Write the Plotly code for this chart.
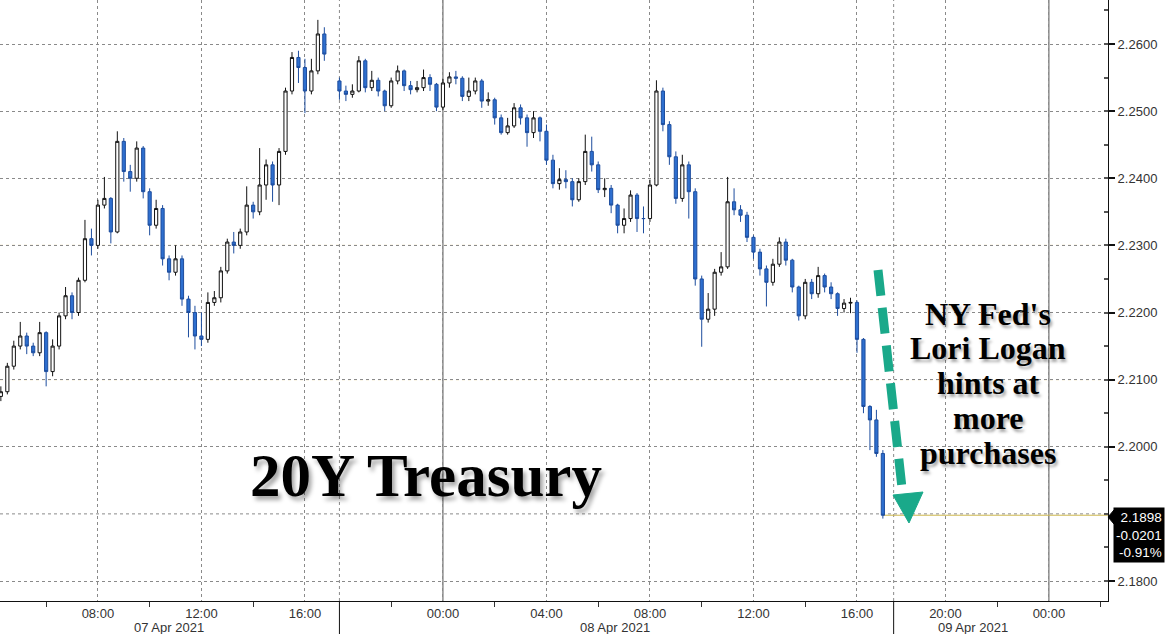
import pandas as pd
import plotly.graph_objects as go

# ---------------- data (15-minute bars) ----------------
session1_start, session1_end = "2021-04-07 04:15", "2021-04-07 16:45"
session2_start, session2_end = "2021-04-07 20:00", "2021-04-08 17:00"

session1_first_open = 2.2075
session1_close = [2.2082, 2.2120, 2.2150, 2.2165, 2.2150, 2.2140, 2.2170, 2.2112, 2.2150, 2.2195,
                  2.2225, 2.2200, 2.2248, 2.2310, 2.2300, 2.2360, 2.2370, 2.2320, 2.2455, 2.2410,
                  2.2400, 2.2445, 2.2380, 2.2330, 2.2355, 2.2280, 2.2260, 2.2280, 2.2220, 2.2200,
                  2.2165, 2.2160, 2.2215, 2.2222, 2.2262, 2.2305, 2.2300, 2.2320, 2.2360, 2.2350,
                  2.2390, 2.2420, 2.2390, 2.2440, 2.2530, 2.2580, 2.2565, 2.2530, 2.2560, 2.2615, 2.2585]
session1_high = [2.2090, 2.2125, 2.2158, 2.2186, 2.2170, 2.2155, 2.2186, 2.2172, 2.2160, 2.2200,
                 2.2238, 2.2230, 2.2252, 2.2338, 2.2325, 2.2368, 2.2402, 2.2372, 2.2470, 2.2460,
                 2.2420, 2.2455, 2.2448, 2.2385, 2.2368, 2.2360, 2.2285, 2.2300, 2.2285, 2.2225,
                 2.2210, 2.2200, 2.2230, 2.2232, 2.2268, 2.2310, 2.2320, 2.2325, 2.2388, 2.2365,
                 2.2445, 2.2428, 2.2425, 2.2445, 2.2535, 2.2588, 2.2590, 2.2578, 2.2578, 2.2636, 2.2625]
session1_low = [2.2068, 2.2078, 2.2115, 2.2145, 2.2138, 2.2135, 2.2135, 2.2090, 2.2105, 2.2145,
                2.2190, 2.2190, 2.2195, 2.2245, 2.2285, 2.2295, 2.2355, 2.2303, 2.2318, 2.2395,
                2.2380, 2.2395, 2.2370, 2.2315, 2.2325, 2.2270, 2.2248, 2.2255, 2.2210, 2.2163,
                2.2145, 2.2150, 2.2155, 2.2210, 2.2215, 2.2258, 2.2288, 2.2295, 2.2315, 2.2340,
                2.2345, 2.2368, 2.2365, 2.2360, 2.2435, 2.2525, 2.2542, 2.2497, 2.2525, 2.2555, 2.2575]

session2_first_open = 2.2545
session2_close = [2.2530, 2.2525, 2.2530, 2.2575, 2.2535, 2.2546, 2.2530, 2.2508, 2.2545, 2.2560,
                  2.2538, 2.2532, 2.2535, 2.2550, 2.2540, 2.2506, 2.2542, 2.2551, 2.2549, 2.2522,
                  2.2530, 2.2545, 2.2515, 2.2517, 2.2490, 2.2468, 2.2478, 2.2505, 2.2490, 2.2468,
                  2.2490, 2.2470, 2.2427, 2.2392, 2.2398, 2.2395, 2.2368, 2.2395, 2.2440, 2.2420,
                  2.2383, 2.2385, 2.2360, 2.2330, 2.2340, 2.2375, 2.2340, 2.2340, 2.2390, 2.2530,
                  2.2480, 2.2432, 2.2370, 2.2420, 2.2380, 2.2250, 2.2190, 2.2205, 2.2260, 2.2268,
                  2.2365, 2.2353, 2.2345, 2.2312, 2.2290, 2.2265, 2.2245, 2.2272, 2.2305, 2.2278,
                  2.2238, 2.2195, 2.2245, 2.2228, 2.2255, 2.2238, 2.2228, 2.2206, 2.2214, 2.2215,
                  2.2160, 2.2060, 2.2040, 2.1990, 2.1898]
session2_high = [2.2550, 2.2538, 2.2540, 2.2582, 2.2578, 2.2560, 2.2550, 2.2532, 2.2550, 2.2568,
                 2.2562, 2.2545, 2.2545, 2.2562, 2.2555, 2.2542, 2.2548, 2.2558, 2.2560, 2.2552,
                 2.2550, 2.2550, 2.2548, 2.2528, 2.2520, 2.2495, 2.2490, 2.2512, 2.2510, 2.2495,
                 2.2500, 2.2492, 2.2480, 2.2435, 2.2415, 2.2412, 2.2400, 2.2400, 2.2465, 2.2462,
                 2.2425, 2.2400, 2.2390, 2.2362, 2.2355, 2.2382, 2.2378, 2.2358, 2.2398, 2.2546,
                 2.2535, 2.2485, 2.2440, 2.2435, 2.2425, 2.2385, 2.2255, 2.2229, 2.2265, 2.2290,
                 2.2402, 2.2385, 2.2360, 2.2350, 2.2315, 2.2295, 2.2270, 2.2280, 2.2312, 2.2310,
                 2.2280, 2.2240, 2.2250, 2.2250, 2.2268, 2.2258, 2.2245, 2.2230, 2.2220, 2.2222,
                 2.2218, 2.2162, 2.2062, 2.2055, 2.1995]
session2_low = [2.2517, 2.2515, 2.2520, 2.2528, 2.2528, 2.2530, 2.2522, 2.2500, 2.2505, 2.2540,
                2.2530, 2.2525, 2.2528, 2.2530, 2.2530, 2.2500, 2.2502, 2.2535, 2.2540, 2.2515,
                2.2515, 2.2525, 2.2505, 2.2508, 2.2480, 2.2465, 2.2465, 2.2475, 2.2480, 2.2447,
                2.2460, 2.2455, 2.2420, 2.2385, 2.2383, 2.2385, 2.2358, 2.2365, 2.2390, 2.2410,
                2.2378, 2.2372, 2.2348, 2.2318, 2.2318, 2.2335, 2.2320, 2.2318, 2.2335, 2.2388,
                2.2470, 2.2420, 2.2362, 2.2365, 2.2340, 2.2240, 2.2149, 2.2185, 2.2195, 2.2255,
                2.2265, 2.2345, 2.2335, 2.2305, 2.2280, 2.2255, 2.2209, 2.2240, 2.2268, 2.2270,
                2.2230, 2.2188, 2.2190, 2.2220, 2.2222, 2.2230, 2.2220, 2.2195, 2.2200, 2.2199,
                2.2140, 2.2050, 2.1995, 2.1985, 2.1893]

last_label = ["2.1898", "-0.0201", "-0.91%"]

x_tick_vals = ["2021-04-07 08:00", "2021-04-07 12:00", "2021-04-07 16:00", "2021-04-08 00:00",
               "2021-04-08 04:00", "2021-04-08 08:00", "2021-04-08 12:00", "2021-04-08 16:00",
               "2021-04-08 20:00", "2021-04-09 00:00"]
x_tick_text = ["08:00", "12:00", "16:00", "00:00", "04:00", "08:00", "12:00", "16:00", "20:00", "00:00"]
x_minor_vals = ["2021-04-07 06:00", "2021-04-07 10:00", "2021-04-07 14:00", "2021-04-07 22:00",
                "2021-04-08 02:00", "2021-04-08 06:00", "2021-04-08 10:00", "2021-04-08 14:00",
                "2021-04-08 22:00", "2021-04-09 02:00"]
day_labels = ["07 Apr 2021", "08 Apr 2021", "09 Apr 2021"]
day_label_pos = ["2021-04-07 10:45", "2021-04-08 06:40", "2021-04-08 21:05"]
session_separators = ["2021-04-07 20:00", "2021-04-08 18:00"]
midnights = ["2021-04-08 00:00", "2021-04-09 00:00"]
y_tick_vals = [2.18, 2.20, 2.21, 2.22, 2.23, 2.24, 2.25, 2.26]
hidden_grid_level = 2.19   # behind the last-price box in the reference
highlight_levels = [2.23, 2.21]

x_range = ["2021-04-07 04:13", "2021-04-09 02:17"]
y_range = [2.17702, 2.26656]

# ---------------- build ----------------
t1 = pd.date_range(session1_start, session1_end, freq="15min")
t2 = pd.date_range(session2_start, session2_end, freq="15min")
times = list(t1) + list(t2)
closes = session1_close + session2_close
opens = [session1_first_open] + session1_close[:-1] + [session2_first_open] + session2_close[:-1]
highs = session1_high + session2_high
lows = session1_low + session2_low

W, H = 1165, 634
ML, MR, MT, MB = 0, 57, 0, 33
PW, PH = W - ML - MR, H - MT - MB


def xp(px):
    return (px - ML) / PW


def yp(py):
    return 1 - (py - MT) / PH


fig = go.Figure()
fig.add_trace(go.Candlestick(
    x=times, open=opens, high=highs, low=lows, close=closes,
    increasing=dict(line=dict(color="#111111", width=1), fillcolor="#ffffff"),
    decreasing=dict(line=dict(color="#1d4d9e", width=1), fillcolor="#2e6fcf"),
    whiskerwidth=0, showlegend=False, hoverinfo="skip",
))

shapes = []
grey = "#8a8a8a"
shapes.append(dict(type="line", xref="paper", yref="y", x0=0, x1=1, y0=hidden_grid_level,
                   y1=hidden_grid_level, line=dict(color=grey, width=1, dash="dot"), layer="below"))
shapes.append(dict(type="line", xref="paper", yref="paper", x0=1, x1=xp(1114),
                   y0=yp(517), y1=yp(517), line=dict(color="#111111", width=2)))
for lv in highlight_levels:
    shapes.append(dict(type="line", xref="paper", yref="y", x0=0, x1=1, y0=lv, y1=lv,
                       line=dict(color="#d2b45a", width=1, dash="dot"), layer="below"))
for s in session_separators:
    shapes.append(dict(type="line", xref="x", yref="paper", x0=s, x1=s, y0=0, y1=1,
                       line=dict(color=grey, width=1, dash="dot"), layer="below"))
    shapes.append(dict(type="line", xref="x", yref="paper", x0=s, x1=s, y0=-MB / PH, y1=0,
                       line=dict(color="#111111", width=1), layer="above"))
for m in midnights:
    shapes.append(dict(type="line", xref="x", yref="paper", x0=m, x1=m, y0=0, y1=1,
                       line=dict(color="#555555", width=1), layer="below"))
# last price line
shapes.append(dict(type="line", xref="x", yref="y", x0=times[-1], x1=x_range[1],
                   y0=closes[-1], y1=closes[-1], line=dict(color="#cdb84e", width=1), layer="below"))
# green dashed arrow
green = "#1aa98a"
shapes.append(dict(type="line", xref="paper", yref="paper",
                   x0=xp(878), y0=yp(270), x1=xp(903), y1=yp(497),
                   line=dict(color=green, width=9, dash="26px,12px")))
shapes.append(dict(type="path", xref="paper", yref="paper",
                   path=f"M {xp(893)},{yp(495)} L {xp(923)},{yp(492)} L {xp(909)},{yp(523)} Z",
                   fillcolor=green, line=dict(color=green, width=1)))
# pointer of price box
shapes.append(dict(type="path", xref="paper", yref="paper",
                   path=f"M {xp(1108)},{yp(517)} L {xp(1114)},{yp(510)} L {xp(1114)},{yp(524)} Z",
                   fillcolor="#000000", line=dict(color="#000000", width=1)))

annotations = []
shadow = "3px 4px 4px rgba(0,0,0,0.35)"
annotations.append(dict(xref="paper", yref="paper", x=xp(426), y=yp(475), text="<b>20Y Treasury</b>",
                        showarrow=False, xanchor="center", yanchor="middle",
                        font=dict(family="Liberation Serif", size=61, color="#000000", shadow=shadow)))
note_lines = ["NY Fed's", "Lori Logan", "hints at", "more", "purchases"]
note_y = [314, 348, 383, 418, 453]
for txt, py in zip(note_lines, note_y):
    annotations.append(dict(xref="paper", yref="paper", x=xp(988), y=yp(py), text=f"<b>{txt}</b>",
                            showarrow=False, xanchor="center", yanchor="middle",
                            font=dict(family="Liberation Serif", size=32, color="#000000",
                                      shadow="2px 3px 3px rgba(0,0,0,0.35)")))
for lbl, pos in zip(day_labels, day_label_pos):
    annotations.append(dict(xref="x", yref="paper", x=pos, y=yp(627), text=lbl, showarrow=False,
                            xanchor="center", yanchor="middle",
                            font=dict(family="Liberation Sans", size=13, color="#333333")))
annotations.append(dict(xref="paper", yref="paper", x=xp(1113), y=yp(507), xanchor="left", yanchor="top",
                        text="<br>".join(last_label), showarrow=False, align="right",
                        bgcolor="#000000", borderpad=2,
                        font=dict(family="Liberation Sans", size=13.5, color="#ffffff")))

fig.update_layout(
    width=W, height=H,
    margin=dict(l=ML, r=MR, t=MT, b=MB),
    paper_bgcolor="#ffffff", plot_bgcolor="#ffffff",
    showlegend=False,
    shapes=shapes, annotations=annotations,
    xaxis=dict(
        type="date", range=x_range,
        rangeslider=dict(visible=False),
        rangebreaks=[dict(values=["2021-04-07 17:00"], dvalue=160 * 60 * 1000),
                     dict(values=["2021-04-08 17:05"], dvalue=35 * 60 * 1000)],
        tickmode="array", tickvals=x_tick_vals, ticktext=x_tick_text,
        ticks="", showgrid=True, gridcolor=grey, griddash="dot", gridwidth=1,
        showline=True, linecolor="#111111", linewidth=1,
        tickfont=dict(family="Liberation Sans", size=13, color="#333333"),
        minor=dict(tickmode="array", tickvals=x_minor_vals, ticks="outside", ticklen=5,
                   tickcolor="#333333", showgrid=False),
        zeroline=False, fixedrange=True, automargin=False,
    ),
    yaxis=dict(
        side="right", range=y_range,
        tickmode="array", tickvals=y_tick_vals, tickformat=".4f",
        ticks="outside", ticklen=6, tickwidth=2, tickcolor="#111111",
        showgrid=True, gridcolor=grey, griddash="dot", gridwidth=1,
        showline=True, linecolor="#111111", linewidth=1,
        tickfont=dict(family="Liberation Sans", size=13, color="#333333"),
        minor=dict(dtick=0.005, ticks="inside", ticklen=4, tickcolor="#555555", showgrid=False),
        zeroline=False, fixedrange=True, automargin=False,
    ),
)

fig.write_html("out.html", config={"displayModeBar": False},
               post_script="document.body.style.margin='0';document.body.style.padding='0';"
                           "document.body.style.overflow='hidden';")
